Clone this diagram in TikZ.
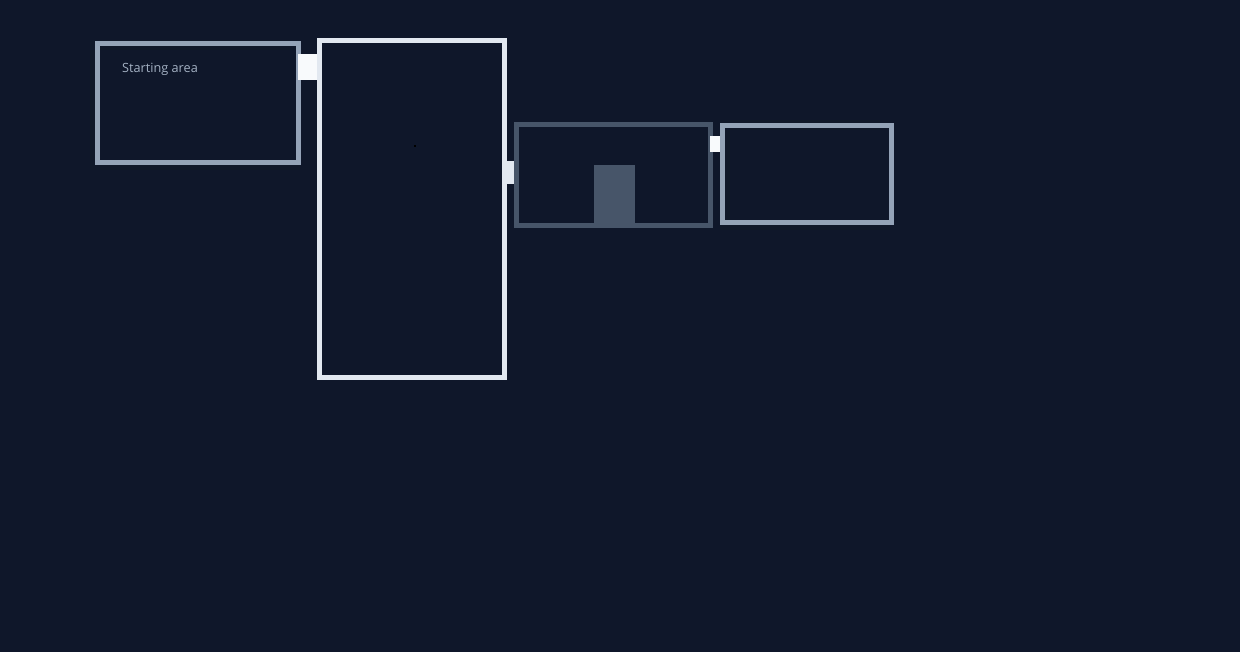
\documentclass[tikz,border=0pt]{standalone}
\usepackage{fontspec}
\setmainfont{Open Sans}
\definecolor{bgc}{HTML}{0F172A}
\definecolor{slatefour}{HTML}{94A3B8}
\definecolor{slatetwo}{HTML}{E2E8F0}
\definecolor{slatesix}{HTML}{475569}
\definecolor{doorw}{HTML}{F8FAFC}
\definecolor{labelc}{HTML}{A3B0C2}
\tikzset{
  room/.style={line width=5pt, fill=none},
  door/.style={fill=doorw, draw=none},
  label/.style={font=\fontsize{12.7}{15}\selectfont, text=labelc, inner sep=0pt, anchor=base west}
}
\begin{document}
\begin{tikzpicture}[x=1pt,y=-1pt]
\fill[bgc] (0,0) rectangle (1240,652);
\useasboundingbox (0,0) rectangle (1240,652);
% rooms
\draw[room, draw=slatefour] (97.5,43.5) rectangle (298.5,162.5);
\draw[room, draw=slatetwo] (319.5,40.5) rectangle (504.5,377.5);
\draw[room, draw=slatesix] (516.5,124.5) rectangle (710.5,225.5);
\draw[room, draw=slatefour] (722.5,125.5) rectangle (891.5,222.5);
% inner block
\fill[slatesix] (594,165) rectangle (635,224);
% doors
\fill[door] (298,54) rectangle (317,80);
\fill[slatetwo] (507,161) rectangle (514,184);
\fill[door] (710,136) rectangle (720,152);
% tiny dot
\fill[black] (414.3,145.3) rectangle (415.7,146.7);
% label
\node[label] (start) at (122,72.5) {Starting area};
\end{tikzpicture}
\end{document}
